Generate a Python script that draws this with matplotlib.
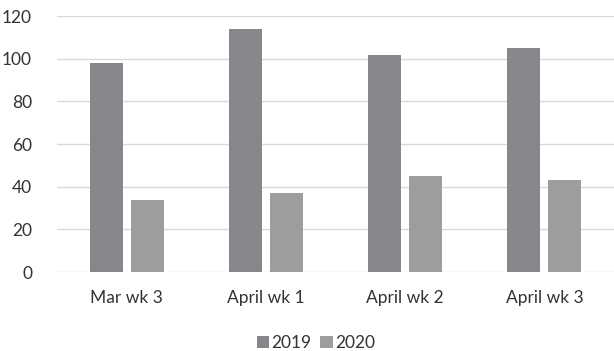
import numpy as np
import matplotlib.pyplot as plt

plt.rcParams['font.family'] = ['Lato', 'DejaVu Sans']

# weekly counts, 2019 vs 2020
weeks = ["Mar wk 3", "April wk 1", "April wk 2", "April wk 3"]
y2019 = [98, 114, 102, 105]
y2020 = [34, 37, 45, 43]

fig = plt.figure(figsize=(6.14, 3.51), dpi=100)
ax = fig.add_axes([0.093, 0.225, 0.907, 0.729])

x = np.arange(len(weeks))
w = 0.237
ax.bar(x - 0.147, y2019, w, color="#86878a", label="2019", zorder=3)
ax.bar(x + 0.147, y2020, w, color="#9c9d9f", label="2020", zorder=3)

ax.set_xlim(-0.5, len(weeks) - 0.5)
ax.set_ylim(0, 120)
ax.set_yticks(range(0, 121, 20))
ax.set_xticks(x)
ax.set_xticklabels(weeks)
ax.grid(axis="y", color="#d9d9d9", linewidth=1, zorder=0)
for s in ax.spines.values():
    s.set_visible(False)
ax.tick_params(length=0, labelsize=12.5, colors="#333333")
ax.tick_params(axis="x", pad=13)
ax.tick_params(axis="y", pad=18)

ax.legend(loc="upper center", bbox_to_anchor=(0.465, -0.185), ncol=2, frameon=False,
          fontsize=12.5, handlelength=0.7, handleheight=0.7, handletextpad=0.15,
          columnspacing=0.5, labelcolor="#333333")

fig.savefig("out.png", dpi=100)
